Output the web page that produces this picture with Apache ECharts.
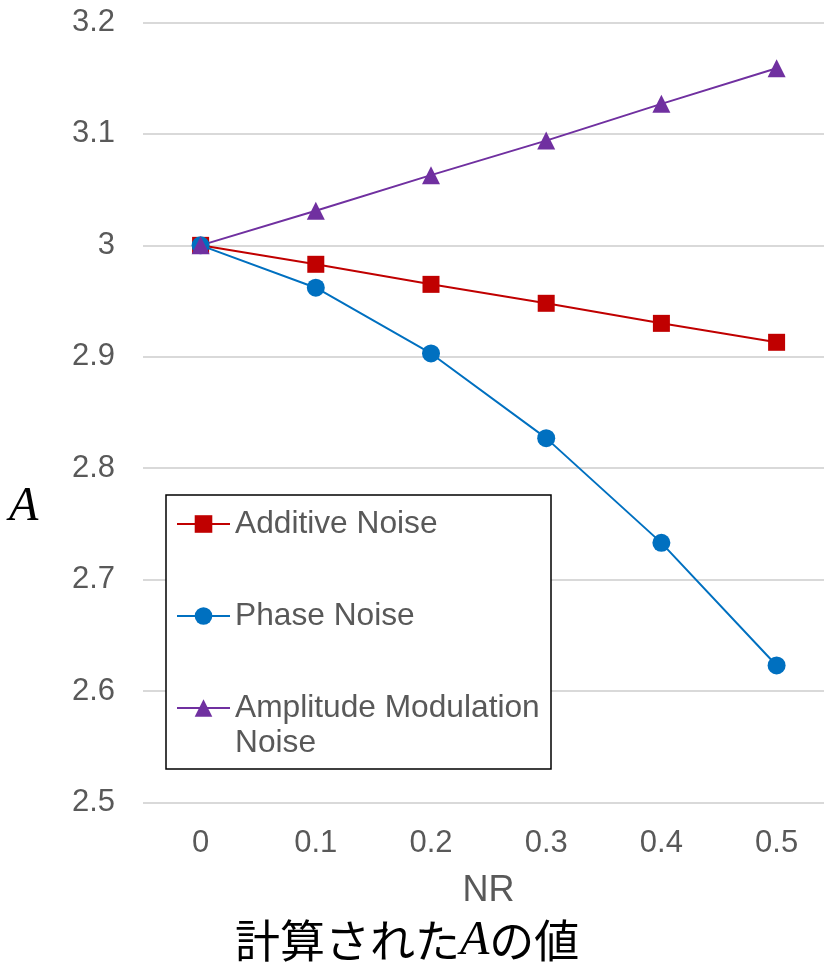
<!DOCTYPE html>
<html>
<head>
<meta charset="utf-8">
<style>
  html, body { margin: 0; padding: 0; background: #fff; }
  #chart { width: 824px; height: 965px; }
</style>
<script src="https://cdn.jsdelivr.net/npm/echarts@6/dist/echarts.min.js"></script>
</head>
<body>
<div id="chart"></div>
<script>
// Noise ratio categories on the x axis
const nrLabels = ['0', '0.1', '0.2', '0.3', '0.4', '0.5'];

// Estimated amplitude A for each kind of noise
const additiveNoise = [3.000, 2.983, 2.965, 2.948, 2.930, 2.913];
const phaseNoise = [3.000, 2.962, 2.903, 2.827, 2.733, 2.623];
const amplitudeModulationNoise = [3.000, 3.031, 3.063, 3.094, 3.127, 3.159];

// Y axis range and tick step
const yMin = 2.5;
const yMax = 3.2;
const yStep = 0.1;

const seriesNames = ['Additive Noise', 'Phase Noise', 'Amplitude Modulation Noise'];

const labelFont = 'Liberation Sans, Arial, sans-serif';
const mathFont = 'Liberation Serif, DejaVu Serif, serif';
const textGray = '#595959';

const chart = echarts.init(document.getElementById('chart'), null, { renderer: 'canvas' });

function lineSeries(name, data, color, symbol, size) {
  return {
    name: name,
    type: 'line',
    data: data,
    symbol: symbol,
    symbolSize: size,
    showSymbol: true,
    lineStyle: { color: color, width: 2 },
    itemStyle: { color: color },
    emphasis: { disabled: true },
    z: 2
  };
}

const legendCommon = {
  orient: 'vertical',
  left: 176,
  padding: 0,
  itemWidth: 53,
  itemHeight: 22,
  itemGap: 57,
  selectedMode: false,
  textStyle: {
    fontFamily: labelFont,
    fontSize: 31.7,
    color: textGray,
    lineHeight: 35
  },
  z: 6
};

const option = {
  animation: false,
  backgroundColor: '#ffffff',
  grid: {
    left: 143,
    width: 691.2,
    top: 22.5,
    bottom: 162.5,
    containLabel: false,
    outerBoundsMode: 'none'
  },
  title: [
    {
      // italic A naming the y axis
      text: '{i|A}',
      left: 9,
      top: 482,
      padding: 0,
      textStyle: {
        rich: {
          i: {
            fontFamily: mathFont,
            fontStyle: 'italic',
            fontWeight: 'normal',
            fontSize: 48,
            lineHeight: 50,
            color: '#000000'
          }
        }
      }
    },
    {
      text: '{j|計算された}{i|A}{j|の値}',
      left: 235,
      top: 916,
      padding: 0,
      textStyle: {
        rich: {
          j: {
            fontFamily: 'Noto Sans CJK JP, sans-serif',
            fontWeight: 'normal',
            fontSize: 45,
            color: '#000000',
            lineHeight: 50
          },
          i: {
            fontFamily: mathFont,
            fontStyle: 'italic',
            fontWeight: 'normal',
            fontSize: 48,
            color: '#000000',
            lineHeight: 50
          }
        }
      }
    }
  ],
  xAxis: {
    type: 'category',
    data: nrLabels,
    boundaryGap: true,
    name: 'NR',
    nameLocation: 'middle',
    nameGap: 71,
    nameTextStyle: { fontFamily: labelFont, fontSize: 36, color: textGray },
    axisLine: { show: false },
    axisTick: { show: false },
    splitLine: { show: false },
    axisLabel: {
      margin: 25,
      fontFamily: labelFont,
      fontSize: 31,
      color: textGray
    }
  },
  yAxis: {
    type: 'value',
    min: yMin,
    max: yMax,
    interval: yStep,
    axisLine: { show: false },
    axisTick: { show: false },
    splitLine: { show: true, lineStyle: { color: '#D9D9D9', width: 2 } },
    axisLabel: {
      margin: 28,
      fontFamily: labelFont,
      fontSize: 31,
      color: textGray,
      formatter: function (v) { return String(Math.round(v * 10) / 10); }
    }
  },
  legend: [
    Object.assign({}, legendCommon, {
      top: 506.5,
      data: [seriesNames[0], seriesNames[1]]
    }),
    Object.assign({}, legendCommon, {
      top: 655.5,
      data: [seriesNames[2]],
      // leading blank line keeps the first text line level with the marker
      formatter: function () { return '\nAmplitude Modulation\nNoise'; }
    })
  ],
  graphic: [
    {
      // framed white box behind the legend
      type: 'rect',
      shape: { x: 166, y: 495, width: 385, height: 274 },
      style: { fill: '#ffffff', stroke: '#000000', lineWidth: 1.5 },
      z: 5
    }
  ],
  series: [
    lineSeries(seriesNames[0], additiveNoise, '#C00000', 'rect', 17),
    lineSeries(seriesNames[1], phaseNoise, '#0070C0', 'circle', 18),
    lineSeries(seriesNames[2], amplitudeModulationNoise, '#7030A0', 'triangle', 18)
  ]
};

chart.setOption(option);
</script>
</body>
</html>
